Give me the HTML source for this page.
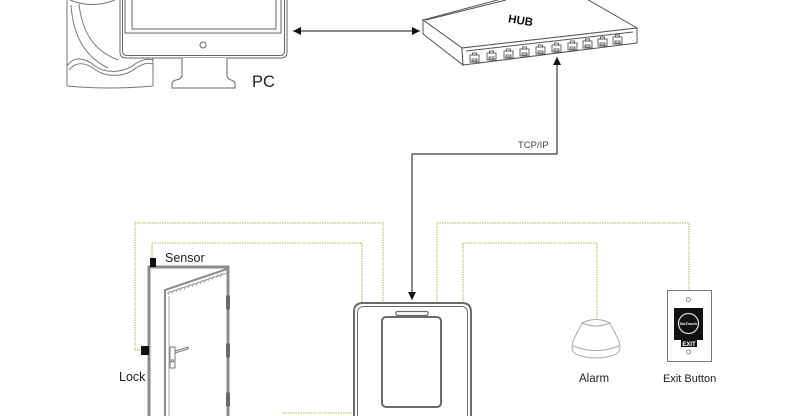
<!DOCTYPE html>
<html>
<head>
<meta charset="utf-8">
<style>
html,body{margin:0;padding:0;background:#fff;}
svg{display:block;}
text{font-family:"Liberation Sans",sans-serif;fill:#222;}
</style>
</head>
<body>
<svg width="785" height="416" viewBox="0 0 785 416" xmlns="http://www.w3.org/2000/svg">
<defs>
  <marker id="ah" viewBox="0 0 10 10" refX="10" refY="5" markerWidth="8" markerHeight="8" orient="auto-start-reverse" markerUnits="userSpaceOnUse">
    <path d="M0,0 L10,5 L0,10 Z" fill="#111"/>
  </marker>
</defs>

<!-- ===== PC tower ===== -->
<g fill="none" stroke="#777" stroke-width="1">
  <path d="M67,0 V86"/>
  <path d="M70,0 Q92,9 115,0"/>
  <path d="M71,5 C73,35 84,56 108,68"/>
  <path d="M79,4 C82,30 92,50 118,60"/>
  <path d="M67,66 C74,56 84,57 95,66 C106,74 124,73 135,64 C141,60 147,58 153,60"/>
  <path d="M69,70 C76,61 85,62 96,70 C107,78 125,77 136,68 C142,64 148,62 153,64"/>
  <path d="M153,58 V86"/>
  <path d="M67,86 Q110,90 153,86"/>
</g>

<!-- ===== Monitor ===== -->
<g fill="none" stroke="#666" stroke-width="1">
  <path d="M120,-5 V52 Q120,58 126,58 H281 Q287,58 287,52 V-5" fill="#fff"/>
  <path d="M122.5,-5 V51 Q122.5,55.5 127,55.5 H280 Q284.5,55.5 284.5,51 V-5"/>
  <path d="M125,-5 V33 H281 V-5"/>
  <path d="M132,-5 V29 H276 V-5"/>
  <circle cx="203" cy="45" r="3"/>
  <path d="M182,58 V75 Q182,79 176,80 Q172,81 172,84 V88 H235 V84 Q235,81 231,80 Q227,79 227,75 V58" fill="#fff"/>
</g>
<text x="252" y="87" font-size="16.5">PC</text>

<!-- PC <-> HUB arrow -->
<line x1="293" y1="31" x2="420" y2="31" stroke="#111" stroke-width="1" marker-start="url(#ah)" marker-end="url(#ah)"/>

<!-- ===== HUB ===== -->
<g fill="#fff" stroke="#555" stroke-width="1">
  <path d="M423,20 L505,-2 L585,-2 L637,28 L462,48 Z"/>
  <path d="M426,20 L506,0"/>
  <path d="M423,20 L462,48 L463,65 L423,34 Z"/>
  <path d="M462,48 L637,28 L637,43 L463,65 Z"/>
  <path d="M466,51 L633,32"/>
</g>
<text x="508" y="25" font-size="11.5" font-weight="bold" transform="rotate(9 525 22)" style="fill:#111">HUB</text>
<g fill="#fff" stroke="#444" stroke-width="0.8">
  <g transform="translate(470,55)"><rect x="0" y="0" width="9" height="7"/><rect x="2.5" y="-2" width="4" height="2"/><rect x="2" y="4" width="5" height="2"/></g>
  <g transform="translate(487,53)"><rect x="0" y="0" width="9" height="7"/><rect x="2.5" y="-2" width="4" height="2"/><rect x="2" y="4" width="5" height="2"/></g>
  <g transform="translate(504,51)"><rect x="0" y="0" width="9" height="7"/><rect x="2.5" y="-2" width="4" height="2"/><rect x="2" y="4" width="5" height="2"/></g>
  <g transform="translate(520,49)"><rect x="0" y="0" width="9" height="7"/><rect x="2.5" y="-2" width="4" height="2"/><rect x="2" y="4" width="5" height="2"/></g>
  <g transform="translate(536,47)"><rect x="0" y="0" width="9" height="7"/><rect x="2.5" y="-2" width="4" height="2"/><rect x="2" y="4" width="5" height="2"/></g>
  <g transform="translate(552,45)"><rect x="0" y="0" width="9" height="7"/><rect x="2.5" y="-2" width="4" height="2"/><rect x="2" y="4" width="5" height="2"/></g>
  <g transform="translate(568,43)"><rect x="0" y="0" width="9" height="7"/><rect x="2.5" y="-2" width="4" height="2"/><rect x="2" y="4" width="5" height="2"/></g>
  <g transform="translate(583,41)"><rect x="0" y="0" width="9" height="7"/><rect x="2.5" y="-2" width="4" height="2"/><rect x="2" y="4" width="5" height="2"/></g>
  <g transform="translate(598,39)"><rect x="0" y="0" width="9" height="7"/><rect x="2.5" y="-2" width="4" height="2"/><rect x="2" y="4" width="5" height="2"/></g>
  <g transform="translate(613,37)"><rect x="0" y="0" width="9" height="7"/><rect x="2.5" y="-2" width="4" height="2"/><rect x="2" y="4" width="5" height="2"/></g>
</g>

<!-- TCP/IP connector -->
<path d="M412,300 V154 H557 V57" fill="none" stroke="#111" stroke-width="1" marker-start="url(#ah)" marker-end="url(#ah)"/>
<text x="518" y="148" font-size="9.5" style="fill:#444">TCP/IP</text>

<!-- ===== Green dotted wiring ===== -->
<g fill="none" stroke="#bcd48c" stroke-width="1.5" stroke-dasharray="1.5 1">
  <path d="M141,350 H135 V223 H383 V303"/>
  <path d="M152,258 V243 H362 V303"/>
  <path d="M437,303 V223 H689 V290"/>
  <path d="M463,303 V243 H597 V320"/>
  <path d="M283,413 H354"/>
</g>

<!-- ===== Door ===== -->
<g fill="none" stroke="#8c8c8c">
  <path d="M149,416 V267 H228 V416" stroke-width="3"/>
  <path d="M165,416 V290 L227,269" stroke-width="2"/>
  <path d="M169,416 V296" stroke-width="1" stroke="#aaa"/>
  <path d="M167,293 L227,273" stroke-width="1" stroke="#999"/>
</g>
<g stroke="#999" stroke-width="0.8">
  <path d="M170,291 L168,295 M174,290 L172,294 M178,288 L176,292 M182,287 L180,291 M186,286 L184,290 M190,284 L188,288 M194,283 L192,287 M198,282 L196,286 M202,280 L200,284 M206,279 L204,283 M210,277 L208,281 M214,276 L212,280 M218,274 L216,278 M222,273 L220,277"/>
</g>
<g fill="#6a6a6a">
  <rect x="226" y="295" width="4" height="15" rx="2"/>
  <rect x="226" y="343" width="4" height="15" rx="2"/>
  <rect x="226" y="392" width="4" height="15" rx="2"/>
</g>
<g fill="#fff" stroke="#777" stroke-width="1">
  <rect x="170" y="347" width="5" height="21"/>
  <path d="M175,351 L188,347 L188,349 L175,353 Z"/>
  <circle cx="172.5" cy="361" r="1.2"/>
</g>
<rect x="150" y="258" width="6" height="9" fill="#111"/>
<rect x="141" y="346" width="8" height="9" fill="#111"/>
<text x="165" y="262" font-size="12.5">Sensor</text>
<text x="119" y="381" font-size="12.5">Lock</text>

<!-- ===== Reader device ===== -->
<g fill="none" stroke="#6a6a6a">
  <path d="M354,420 V312 Q354,303 363,303 H462 Q471,303 471,312 V420" stroke-width="2" fill="#fff"/>
  <path d="M357.5,420 V313 Q357.5,306.5 364,306.5 H461 Q467.5,306.5 467.5,313 V420" stroke-width="1"/>
  <rect x="396" y="311.5" width="32" height="4" rx="1.5" stroke-width="1.2"/>
  <rect x="382" y="317" width="59" height="90" rx="4" stroke-width="2"/>
</g>

<!-- ===== Alarm ===== -->
<g fill="#fff" stroke="#a8a8a8" stroke-width="1">
  <path d="M582,323 Q596,316 610,323 C614,333 620,339 620,348 Q620,357 596,358 Q572,357 572,348 C572,339 578,333 582,323 Z"/>
  <path d="M573,346 Q596,355 619,346"/>
  <path d="M582,323 Q596,329 610,323"/>
</g>
<text x="579" y="382" font-size="11.5">Alarm</text>

<!-- ===== Exit button ===== -->
<rect x="667.5" y="290.5" width="44" height="71" fill="#fff" stroke="#777" stroke-width="1"/>
<circle cx="688.5" cy="299.5" r="2" fill="none" stroke="#777" stroke-width="0.8"/>
<circle cx="688.5" cy="352" r="2" fill="none" stroke="#777" stroke-width="0.8"/>
<rect x="674" y="308" width="29" height="32" fill="#111"/>
<rect x="681" y="339" width="16" height="8" fill="#111"/>
<circle cx="688.5" cy="323.5" r="10" fill="none" stroke="#ddd" stroke-width="1.2"/>
<text x="688.5" y="325" font-size="4" text-anchor="middle" style="fill:#fff;font-weight:bold">NoTouch</text>
<text x="689" y="346" font-size="6" text-anchor="middle" style="fill:#fff;font-weight:bold">EXIT</text>
<text x="663" y="382" font-size="11">Exit Button</text>
</svg>
</body>
</html>
